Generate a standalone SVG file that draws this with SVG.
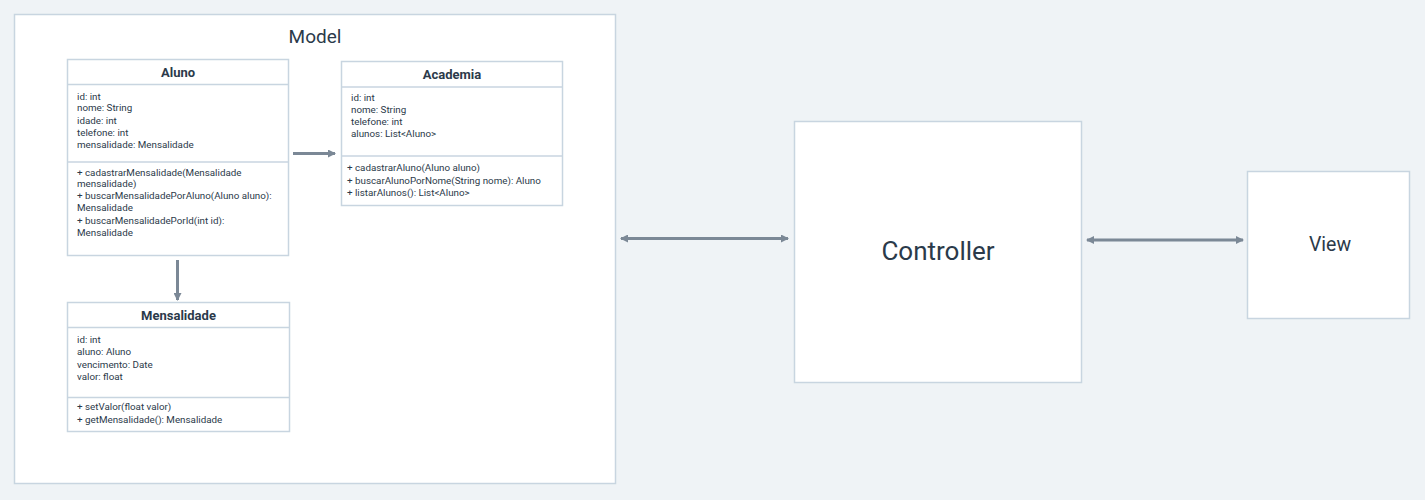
<svg xmlns="http://www.w3.org/2000/svg" width="1425" height="500" viewBox="0 0 1425 500">
<defs>
<style>
.bg{fill:#eff3f6}
.box{fill:#ffffff;stroke:#c8d5e0;stroke-width:1.5}
.sep{stroke:#c8d5e0;stroke-width:1.5;fill:none}
.t{font-family:Roboto,"Noto Sans",sans-serif;fill:#2b3a4a}
.s{font-size:9.8px}
.h{font-size:13px;font-weight:bold;text-anchor:middle}
.big{text-anchor:middle}
.con{stroke:#7b8896;stroke-width:3;fill:none}
</style>
<marker id="ah" viewBox="0 0 8 8" refX="7" refY="4" markerWidth="8" markerHeight="8" markerUnits="userSpaceOnUse" orient="auto-start-reverse">
<path d="M0,0 L8,4 L0,8 Z" fill="#7b8896"/>
</marker>
</defs>
<rect class="bg" x="0" y="0" width="1425" height="500"/>
<g id="model">
<rect class="box" x="14.5" y="14.5" width="601" height="469"/>
<text class="t big" x="315" y="43" font-size="19">Model</text>
</g>
<g id="aluno">
<rect class="box" x="67.5" y="59.5" width="221" height="196"/>
<line class="sep" x1="67.5" y1="84.5" x2="288.5" y2="84.5"/>
<line class="sep" x1="67.5" y1="162" x2="288.5" y2="162"/>
<text class="t h" x="178" y="76.5">Aluno</text>
<text class="t s" x="77" y="99.5">id: int</text>
<text class="t s" x="77" y="111">nome: String</text>
<text class="t s" x="77" y="123.5">idade: int</text>
<text class="t s" x="77" y="135.5">telefone: int</text>
<text class="t s" x="77" y="148">mensalidade: Mensalidade</text>
<text class="t s" x="77" y="176">+ cadastrarMensalidade(Mensalidade</text>
<text class="t s" x="77" y="187">mensalidade)</text>
<text class="t s" x="77" y="199">+ buscarMensalidadePorAluno(Aluno aluno):</text>
<text class="t s" x="77" y="211">Mensalidade</text>
<text class="t s" x="77" y="224">+ buscarMensalidadePorId(int id):</text>
<text class="t s" x="77" y="236">Mensalidade</text>
</g>
<g id="academia">
<rect class="box" x="341.5" y="61.5" width="221" height="144"/>
<line class="sep" x1="341.5" y1="87" x2="562.5" y2="87"/>
<line class="sep" x1="341.5" y1="156" x2="562.5" y2="156"/>
<text class="t h" x="452" y="78.5">Academia</text>
<text class="t s" x="351" y="101">id: int</text>
<text class="t s" x="351" y="113">nome: String</text>
<text class="t s" x="351" y="125">telefone: int</text>
<text class="t s" x="351" y="137">alunos: List&lt;Aluno&gt;</text>
<text class="t s" x="347" y="171">+ cadastrarAluno(Aluno aluno)</text>
<text class="t s" x="347" y="184">+ buscarAlunoPorNome(String nome): Aluno</text>
<text class="t s" x="347" y="196">+ listarAlunos(): List&lt;Aluno&gt;</text>
</g>
<g id="mensalidade">
<rect class="box" x="67.5" y="302.5" width="222" height="129"/>
<line class="sep" x1="67.5" y1="327.5" x2="289.5" y2="327.5"/>
<line class="sep" x1="67.5" y1="397.5" x2="289.5" y2="397.5"/>
<text class="t h" x="178.5" y="319.5">Mensalidade</text>
<text class="t s" x="77" y="343">id: int</text>
<text class="t s" x="77" y="355">aluno: Aluno</text>
<text class="t s" x="77" y="368">vencimento: Date</text>
<text class="t s" x="77" y="380">valor: float</text>
<text class="t s" x="77" y="410">+ setValor(float valor)</text>
<text class="t s" x="77" y="423">+ getMensalidade(): Mensalidade</text>
</g>
<g id="controller">
<rect class="box" x="794.5" y="121.5" width="287" height="261"/>
<text class="t big" x="938" y="260" font-size="26">Controller</text>
</g>
<g id="view">
<rect class="box" x="1247.5" y="171.5" width="162" height="147"/>
<text class="t big" x="1330" y="251" font-size="19.5">View</text>
</g>
<g id="connectors">
<line class="con" x1="293" y1="153.5" x2="335" y2="153.5" marker-end="url(#ah)"/>
<line class="con" x1="177.5" y1="260" x2="177.5" y2="300" marker-end="url(#ah)"/>
<line class="con" x1="621" y1="238.5" x2="788" y2="238.5" marker-start="url(#ah)" marker-end="url(#ah)"/>
<line class="con" x1="1087" y1="240" x2="1243" y2="240" marker-start="url(#ah)" marker-end="url(#ah)"/>
</g>
</svg>
